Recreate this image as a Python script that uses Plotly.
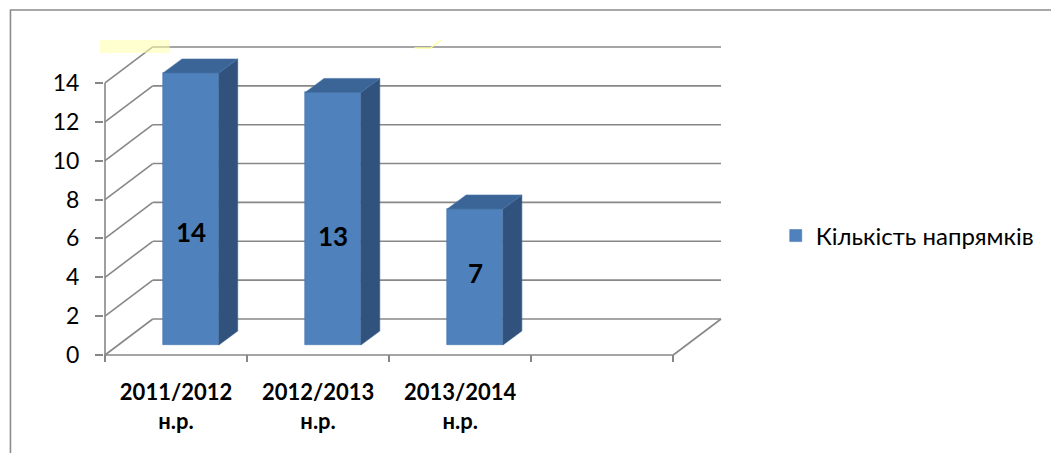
import plotly.graph_objects as go

# ---------------- data ----------------
categories = ["2011/2012<br>н.р.", "2012/2013<br>н.р.", "2013/2014<br>н.р."]
values = [14, 13, 7]
series_name = "Кількість напрямків"
y_ticks = [0, 2, 4, 6, 8, 10, 12, 14]
n_slots = 4  # category slots on the floor (last one empty)

# label heights (layout, in axis units)
label_y = [6.35, 6.1, 4.2]

# ---------------- geometry ----------------
PXX = 142.75   # px per x unit
PXY = 19.43    # px per y unit
L, R_ = 104, 323
T, B = 35, 91
PW = 1051 - L - R_
PH = 453 - T - B
xmin = -0.5 - (105 - L) / PXX
xmax = xmin + PW / PXX
ymin = -(362 - 355) / PXY
ymax = ymin + PH / PXY

# back wall depth offset
dxw, dyw = 48 / PXX, 36 / PXY
# bar placement within depth
dxb, dyb = 15 / PXX, 10 / PXY
bw = 56 / PXX
# bar side depth
sdx, sdy = 19 / PXX, 14 / PXY

GRID = "#878787"
FRONT = "#4F81BD"
SIDE = "#30527C"
TOP = "#3B6597"
FONT = "Lato"


def ppx(px):
    return (px - L) / PW


def ppy(py):
    return (453 - B - py) / PH


fig = go.Figure()

fig.add_trace(go.Bar(
    x=[i + dxb for i in range(len(values))], y=values, base=dyb, width=bw,
    marker=dict(color=FRONT, line=dict(color="#4a79b2", width=0.6)),
    name=series_name, showlegend=True, hoverinfo="y",
))

for i, v in enumerate(values):
    xl = i + dxb - bw / 2
    xr = i + dxb + bw / 2
    top = dyb + v
    # side face
    fig.add_trace(go.Scatter(
        x=[xr, xr + sdx, xr + sdx, xr, xr],
        y=[dyb, dyb + sdy, top + sdy, top, dyb],
        fill="toself", fillcolor=SIDE, mode="lines",
        line=dict(color="#3d6290", width=0.6),
        showlegend=False, hoverinfo="skip",
    ))
    # top face
    fig.add_trace(go.Scatter(
        x=[xl, xl + sdx, xr + sdx, xr, xl],
        y=[top, top + sdy, top + sdy, top, top],
        fill="toself", fillcolor=TOP, mode="lines",
        line=dict(color="#4a74a8", width=0.6),
        showlegend=False, hoverinfo="skip",
    ))

shapes = []
x_left = -0.5
x_right = -0.5 + n_slots
# back wall gridlines and left wall diagonals
for v in y_ticks:
    shapes.append(dict(type="line", xref="x", yref="y",
                       x0=x_left + dxw, x1=x_right + dxw, y0=v + dyw, y1=v + dyw,
                       line=dict(color=GRID, width=1.6), layer="below"))
    shapes.append(dict(type="line", xref="x", yref="y",
                       x0=x_left, x1=x_left + dxw, y0=v, y1=v + dyw,
                       line=dict(color=GRID, width=1.6), layer="below"))
# floor front edge, right edge, front vertical axis line
shapes.append(dict(type="line", xref="x", yref="y", x0=x_left, x1=x_right, y0=0, y1=0,
                   line=dict(color=GRID, width=1.6), layer="below"))
shapes.append(dict(type="line", xref="x", yref="y", x0=x_right, x1=x_right + dxw, y0=0, y1=dyw,
                   line=dict(color=GRID, width=1.6), layer="below"))
shapes.append(dict(type="line", xref="x", yref="y", x0=x_left, x1=x_left, y0=0, y1=y_ticks[-1],
                   line=dict(color=GRID, width=1.6), layer="below"))

# faint yellow artifacts near the top
shapes.append(dict(type="rect", xref="paper", yref="paper",
                   x0=ppx(100), x1=ppx(170), y0=ppy(53), y1=ppy(40),
                   fillcolor="rgba(255,255,170,0.55)", line=dict(width=0), layer="above"))
shapes.append(dict(type="path", xref="paper", yref="paper",
                   path=f"M{ppx(416)},{ppy(48)} L{ppx(432)},{ppy(48)} L{ppx(443)},{ppy(40)}",
                   line=dict(color="rgba(255,255,150,0.9)", width=1.5), layer="above"))

# outer frame
shapes.append(dict(type="rect", xref="paper", yref="paper",
                   x0=ppx(10), x1=ppx(1070), y0=ppy(470), y1=ppy(10),
                   line=dict(color="#8c8c8c", width=1.6), fillcolor="rgba(0,0,0,0)", layer="below"))

annotations = []
for i, v in enumerate(values):
    annotations.append(dict(x=i + dxb, y=label_y[i], xref="x", yref="y", text=f"<b>{v}</b>",
                            showarrow=False, font=dict(family=FONT, size=26, color="black")))

fig.update_layout(
    width=1051, height=453,
    margin=dict(l=L, r=R_, t=T, b=B, pad=0),
    paper_bgcolor="white", plot_bgcolor="white",
    shapes=shapes, annotations=annotations,
    bargap=0,
    showlegend=True,
    legend=dict(x=ppx(779), y=ppy(236), xanchor="left", yanchor="middle",
                font=dict(family=FONT, size=24, color="black"),
                bgcolor="rgba(0,0,0,0)", itemwidth=30),
    xaxis=dict(range=[xmin, xmax], tickvals=list(range(len(categories))), ticktext=categories,
               ticks="", showgrid=False, zeroline=False, showline=False,
               tickfont=dict(family=FONT, size=22, color="black", weight="bold"),
               ticklabelstandoff=15,
               minor=dict(tickvals=[x_left + k for k in range(n_slots + 1)], ticks="inside",
                          ticklen=7, tickwidth=1.6, tickcolor=GRID, showgrid=False)),
    yaxis=dict(range=[ymin, ymax], tickvals=y_ticks, ticks="outside", ticklen=8,
               tickwidth=1.6, tickcolor=GRID, showgrid=False, zeroline=False, showline=False,
               tickfont=dict(family=FONT, size=23, color="black"), ticklabelstandoff=11),
)

fig.write_html("out.html", post_script="document.body.style.margin='0px';",
               config={"displayModeBar": False})
